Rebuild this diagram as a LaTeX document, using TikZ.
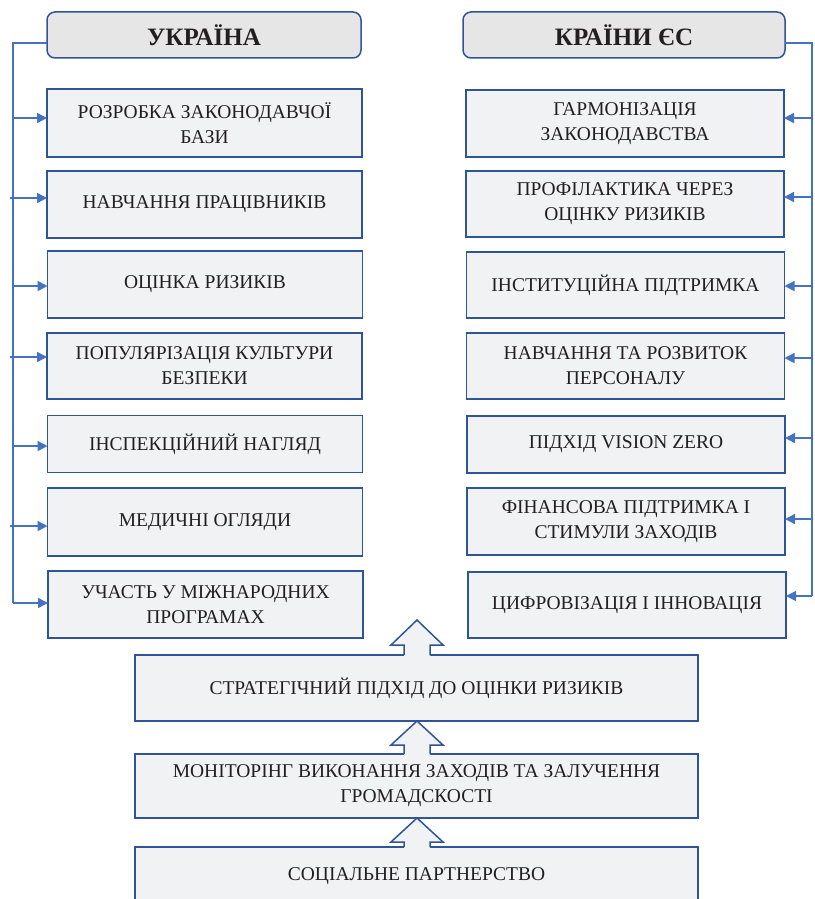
\documentclass[tikz,border=0pt]{standalone}
\usepackage{fontspec}
\setmainfont{Liberation Serif}
\usetikzlibrary{calc,arrows.meta}
\definecolor{bordblue}{HTML}{2F5597}
\definecolor{linkblue}{HTML}{4472C4}
\definecolor{boxfill}{HTML}{F1F2F4}
\definecolor{headfill}{HTML}{E6E6E6}
\definecolor{txt}{HTML}{231F20}
\begin{document}
\begin{tikzpicture}[x=1pt,y=-1pt,
  every node/.style={inner sep=0pt,outer sep=0pt,text=txt},
  boxstyle/.style={draw=bordblue,line width=1.3pt,fill=boxfill,align=center,
     font=\fontsize{19.5}{25}\selectfont},
  headstyle/.style={draw=bordblue,line width=1.5pt,fill=headfill,rounded corners=8pt,
     align=center,font=\fontsize{25}{28}\selectfont\bfseries,minimum height=46pt},
  link/.style={draw=linkblue,line width=1.5pt},
  linkarrow/.style={link,-{Triangle[length=10pt,width=10pt]}},
  blockarrow/.style={draw=bordblue,line width=1.5pt,fill=boxfill,line join=miter}]
\useasboundingbox (0,0) rectangle (814,899);

% headers
\node[headstyle,minimum width=314pt] (hua) at (204,35) {УКРАЇНА};
\node[headstyle,minimum width=322pt] (heu) at (624,35) {КРАЇНИ ЄС};

% left boxes
\node[boxstyle,minimum width=315pt,minimum height=68pt] (l1) at (204.5,123) {РОЗРОБКА ЗАКОНОДАВЧОЇ\\БАЗИ};
\node[boxstyle,minimum width=315pt,minimum height=67pt] (l2) at (204.5,204.5) {НАВЧАННЯ ПРАЦІВНИКІВ};
\node[boxstyle,minimum width=315pt,minimum height=67pt] (l3) at (205,284.5) {ОЦІНКА РИЗИКІВ};
\node[boxstyle,minimum width=315pt,minimum height=66pt] (l4) at (204.5,366) {ПОПУЛЯРІЗАЦІЯ КУЛЬТУРИ\\БЕЗПЕКИ};
\node[boxstyle,minimum width=315pt,minimum height=57pt] (l5) at (205,444) {ІНСПЕКЦІЙНИЙ НАГЛЯД};
\node[boxstyle,minimum width=315pt,minimum height=68pt] (l6) at (205,522) {МЕДИЧНІ ОГЛЯДИ};
\node[boxstyle,minimum width=315pt,minimum height=67pt] (l7) at (205.5,604.5) {УЧАСТЬ У МІЖНАРОДНИХ\\ПРОГРАМАХ};

% right boxes
\node[boxstyle,minimum width=318pt,minimum height=67pt] (r1) at (625,123.5) {ГАРМОНІЗАЦІЯ\\ЗАКОНОДАВСТВА};
\node[boxstyle,minimum width=318pt,minimum height=66pt] (r2) at (625,204) {ПРОФІЛАКТИКА ЧЕРЕЗ\\ОЦІНКУ РИЗИКІВ};
\node[boxstyle,minimum width=318pt,minimum height=66pt] (r3) at (625.5,285) {ІНСТИТУЦІЙНА ПІДТРИМКА};
\node[boxstyle,minimum width=318pt,minimum height=66pt] (r4) at (625.5,366) {НАВЧАННЯ ТА РОЗВИТОК\\ПЕРСОНАЛУ};
\node[boxstyle,minimum width=318pt,minimum height=57pt] (r5) at (626,444.5) {ПІДХІД VISION ZERO};
\node[boxstyle,minimum width=318pt,minimum height=67pt] (r6) at (626,521.5) {ФІНАНСОВА ПІДТРИМКА І\\СТИМУЛИ ЗАХОДІВ};
\node[boxstyle,minimum width=318pt,minimum height=66pt] (r7) at (627,605) {ЦИФРОВІЗАЦІЯ І ІННОВАЦІЯ};

% bottom boxes
\node[boxstyle,minimum width=563pt,minimum height=66pt] (bs) at (416.5,688) {СТРАТЕГІЧНИЙ ПІДХІД ДО ОЦІНКИ РИЗИКІВ};
\node[boxstyle,minimum width=563pt,minimum height=64pt] (bm) at (416.5,786) {МОНІТОРІНГ ВИКОНАННЯ ЗАХОДІВ ТА ЗАЛУЧЕННЯ\\ГРОМАДСКОСТІ};
\node[boxstyle,minimum width=563pt,minimum height=66pt,text depth=0pt] (bp) at (416.5,880) {};
\node[font=\fontsize{19.5}{25}\selectfont] (bpt) at (416.5,876) {СОЦІАЛЬНЕ ПАРТНЕРСТВО};

% left connectors
\coordinate (lt) at (13,43);
\coordinate (lb) at (13,603);
\draw[link] ([yshift=-8pt]hua.west) -- (lt) -- (lb);
\draw[linkarrow] (lt |- 0,118) -- (l1.west |- 0,118);
\draw[link] (10,198) -- (lt |- 0,198);
\draw[linkarrow] (lt |- 0,198) -- (l2.west |- 0,198);
\draw[linkarrow] (lt |- 0,286) -- (l3.west |- 0,286);
\draw[link] (10,357) -- (lt |- 0,357);
\draw[linkarrow] (lt |- 0,357) -- (l4.west |- 0,357);
\draw[linkarrow] (lt |- 0,446) -- (l5.west |- 0,446);
\draw[link] (10,526) -- (lt |- 0,526);
\draw[linkarrow] (lt |- 0,526) -- (l6.west |- 0,526);
\draw[linkarrow] (lb) -- (l7.west |- lb);

% right connectors
\coordinate (rt) at (812,43);
\coordinate (rb) at (812,596);
\draw[link] ([yshift=-8pt]heu.east) -- (rt) -- (rb);
\draw[linkarrow] (rt |- 0,118) -- (r1.east |- 0,118);
\draw[linkarrow] (rt |- 0,197) -- (r2.east |- 0,197);
\draw[linkarrow] (rt |- 0,286) -- (r3.east |- 0,286);
\draw[linkarrow] (rt |- 0,358) -- (r4.east |- 0,358);
\draw[linkarrow] (rt |- 0,438) -- (r5.east |- 0,438);
\draw[linkarrow] (rt |- 0,519) -- (r6.east |- 0,519);
\draw[linkarrow] (rb) -- (r7.east |- rb);

% block arrows
\newcommand{\blockup}[3]{% #1 bottom anchor, #2 head base offset (above bottom), #3 tip offset
  \fill[boxfill] ($(#1)+(-12.5,1)$) -- ($(#1)+(-12.5,-#2)$) -- ($(#1)+(-25.5,-#2)$) -- ($(#1)+(0.5,-#3)$)
     -- ($(#1)+(26.5,-#2)$) -- ($(#1)+(13.5,-#2)$) -- ($(#1)+(13.5,1)$) -- cycle;
  \draw[blockarrow] ($(#1)+(-12.5,0)$) -- ($(#1)+(-12.5,-#2)$) -- ($(#1)+(-25.5,-#2)$) -- ($(#1)+(0.5,-#3)$)
     -- ($(#1)+(26.5,-#2)$) -- ($(#1)+(13.5,-#2)$) -- ($(#1)+(13.5,0)$);
}
\blockup{bs.north}{10}{35}
\blockup{bm.north}{9}{33}
\blockup{bp.north}{5}{29}
\end{tikzpicture}
\end{document}
